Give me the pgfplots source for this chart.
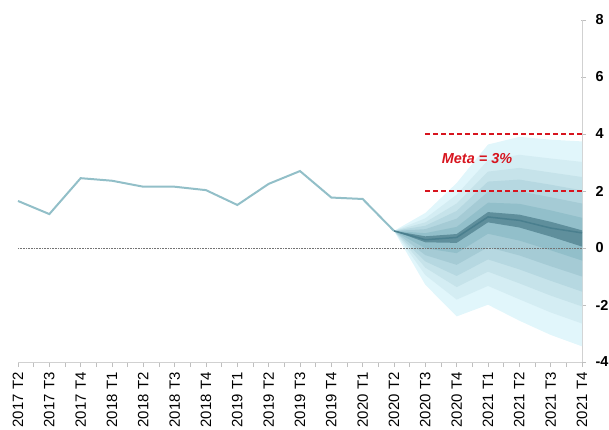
\documentclass[border=0pt]{standalone}
\usepackage{fontspec}
\setmainfont{Liberation Sans}
\usepackage{pgfplots}
\pgfplotsset{compat=1.18}
\definecolor{fsix}{HTML}{E1F6FB}
\definecolor{ffive}{HTML}{D4EDF3}
\definecolor{ffour}{HTML}{C6E3EA}
\definecolor{fthree}{HTML}{B6D8E1}
\definecolor{ftwo}{HTML}{A5CBD5}
\definecolor{fone}{HTML}{92BFCA}
\definecolor{fzero}{HTML}{5F8F9C}
\definecolor{medc}{HTML}{4A7F8E}
\definecolor{histc}{HTML}{92BFC8}
\definecolor{metac}{HTML}{D7141E}
\begin{document}
\begin{tikzpicture}
\begin{axis}[
  at={(0,0)}, anchor=south west,
  scale only axis, width=564bp, height=342bp,
  xmin=0, xmax=18, ymin=-4, ymax=8,
  axis x line*=bottom, axis y line*=right,
  axis line style={draw=black!18, line width=0.8bp},
  tick style={draw=black!25, line width=0.6bp},
  tick align=outside,
  major tick length=5bp, minor tick length=5bp,
  xtick={0,...,18},
  minor x tick num=1,
  xticklabels={2017 T2,2017 T3,2017 T4,2018 T1,2018 T2,2018 T3,2018 T4,2019 T1,2019 T2,2019 T3,2019 T4,2020 T1,2020 T2,2020 T3,2020 T4,2021 T1,2021 T2,2021 T3,2021 T4},
  x tick label style={rotate=90, anchor=east, font=\fontsize{15}{15}\selectfont, xshift=-2bp},
  ytick={-4,-2,0,2,4,6,8},
  yticklabels={-4,-2,0,2,4,6,8},
  y tick style={xshift=-1bp},
  y tick label style={font=\bfseries\fontsize{14.5}{14.5}\selectfont, anchor=west, xshift=5bp},
  clip=false,
]
% fan bands, outer to inner
\addplot[fill=fsix, draw=none] coordinates {(12,0.6) (13,1.23) (14,2.28) (15,3.63) (16,3.90) (17,3.80) (18,3.74) (18,-3.45) (17,-3.05) (16,-2.55) (15,-1.99) (14,-2.40) (13,-1.29) (12,0.6)};
\addplot[fill=ffive, draw=none] coordinates {(12,0.6) (13,1.04) (14,1.87) (15,3.08) (16,3.27) (17,3.14) (18,3.02) (18,-2.65) (17,-2.26) (16,-1.80) (15,-1.33) (14,-1.81) (13,-0.95) (12,0.6)};
\addplot[fill=ffour, draw=none] coordinates {(12,0.6) (13,0.90) (14,1.56) (15,2.68) (16,2.81) (17,2.65) (18,2.49) (18,-2.05) (17,-1.67) (16,-1.24) (15,-0.83) (14,-1.37) (13,-0.69) (12,0.6)};
\addplot[fill=fthree, draw=none] coordinates {(12,0.6) (13,0.78) (14,1.30) (15,2.33) (16,2.40) (17,2.22) (18,2.02) (18,-1.53) (17,-1.15) (16,-0.75) (15,-0.40) (14,-0.98) (13,-0.47) (12,0.6)};
\addplot[fill=ftwo, draw=none] coordinates {(12,0.6) (13,0.66) (14,1.03) (15,1.97) (16,1.99) (17,1.78) (18,1.56) (18,-1.00) (17,-0.64) (16,-0.26) (15,0.03) (14,-0.59) (13,-0.25) (12,0.6)};
\addplot[fill=fone, draw=none] coordinates {(12,0.6) (13,0.52) (14,0.74) (15,1.59) (16,1.55) (17,1.32) (18,1.06) (18,-0.44) (17,-0.08) (16,0.26) (15,0.50) (14,-0.18) (13,-0.01) (12,0.6)};
\addplot[fill=fzero, draw=none] coordinates {(12,0.6) (13,0.41) (14,0.49) (15,1.26) (16,1.17) (17,0.92) (18,0.62) (18,0.05) (17,0.40) (16,0.72) (15,0.90) (14,0.18) (13,0.20) (12,0.6)};
% zero line
\addplot[black!55, densely dotted, line width=0.6bp] coordinates {(0,0) (18,0)};
% historical
\addplot[histc, line width=2bp] coordinates {(0,1.65) (1,1.19) (2,2.45) (3,2.36) (4,2.15) (5,2.15) (6,2.03) (7,1.51) (8,2.25) (9,2.70) (10,1.77) (11,1.72) (12,0.60)};
% median forecast
\addplot[medc, line width=1.5bp] coordinates {(12,0.60) (13,0.29) (14,0.37) (15,1.09) (16,0.97) (17,0.70) (18,0.53)};
% target range
\addplot[metac, line width=1.6bp, dash pattern=on 5bp off 3bp] coordinates {(13,4) (18,4)};
\addplot[metac, line width=1.6bp, dash pattern=on 5bp off 3bp] coordinates {(13,2) (18,2)};
\node[text=metac, font=\bfseries\itshape\fontsize{14.5}{14.5}\selectfont] at (axis cs:14.65,3.15) {Meta = 3\%};
\end{axis}
\pgfresetboundingbox
\useasboundingbox (-18bp,-68bp) rectangle (591bp,362bp);
\end{tikzpicture}
\end{document}
